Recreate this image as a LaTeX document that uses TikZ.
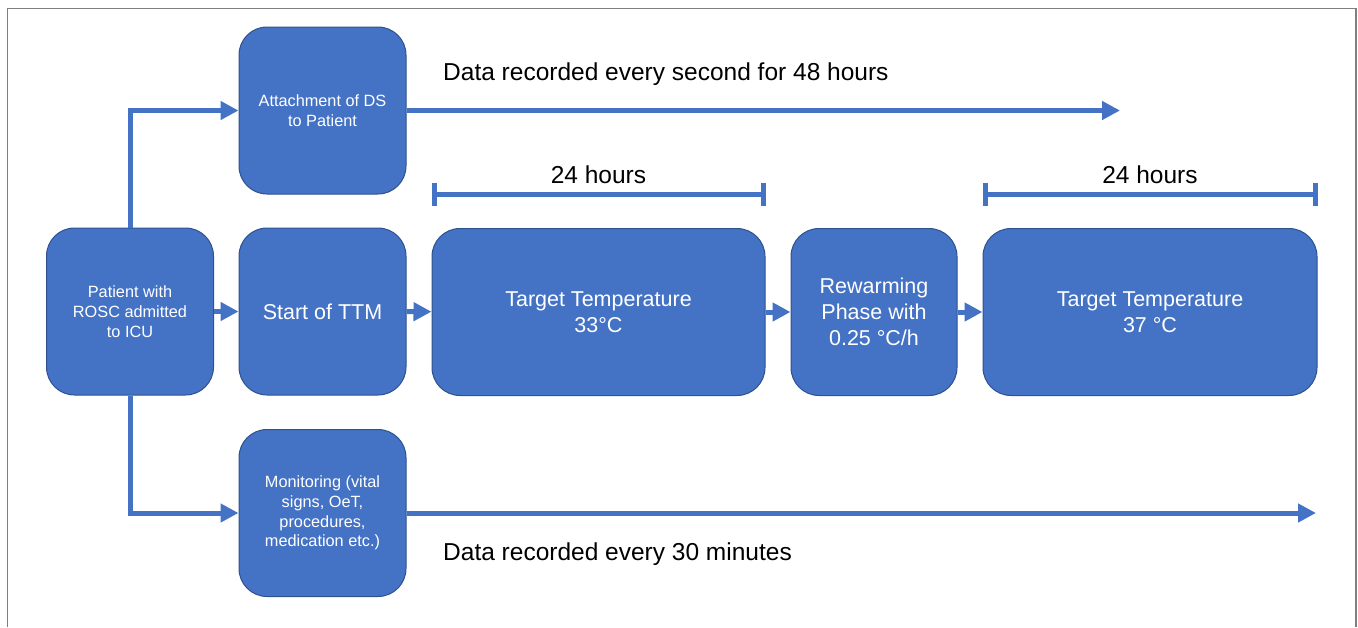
\documentclass[tikz,border=0pt]{standalone}
\usepackage{fontspec}
\setmainfont{Liberation Sans}
\usetikzlibrary{arrows.meta}

\definecolor{boxblue}{HTML}{4472C4}
\definecolor{boxedge}{HTML}{2F528F}
\definecolor{framegray}{HTML}{7F7F7F}

\tikzset{
  stage/.style={draw=boxedge, line width=1pt, fill=boxblue, text=white,
    rounded corners=28pt, align=center, inner sep=0pt,
    minimum height=167pt},
  narrowbox/.style={stage, minimum width=167pt},
  widebox/.style={stage, minimum width=333pt},
  smalltext/.style={font=\fontsize{16.3}{19.8}\selectfont},
  bigtext/.style={font=\fontsize{21.5}{26}\selectfont},
  conn/.style={draw=boxblue, line width=5pt,
    -{Triangle[length=18pt,width=18pt]}},
  span/.style={draw=boxblue, line width=5pt, line cap=butt},
  note/.style={font=\fontsize{24.5}{29}\selectfont, inner sep=0pt}
}

\begin{document}
\begin{tikzpicture}[x=1pt, y=-1pt]
  \useasboundingbox (0,0) rectangle (1358,627);
  % open frame (left, top and right sides)
  \draw[framegray, line width=1.5pt] (7.5,627) -- (7.5,8.5) -- (1356,8.5) -- (1356,627);

  % stage boxes
  \node[narrowbox, smalltext] (pat) at (130,311.5) {Patient with\\ROSC admitted\\to ICU};
  \node[narrowbox, smalltext] (att) at (322.5,110.5) {Attachment of DS\\to Patient};
  \node[narrowbox, bigtext]   (ttm) at (322.5,311.5) {Start of TTM};
  \node[narrowbox, smalltext] (mon) at (322.5,513) {Monitoring (vital\\signs, OeT,\\procedures,\\medication etc.)};
  \node[widebox, bigtext]     (t33) at (598.5,312) {Target Temperature\\33°C};
  \node[narrowbox, bigtext, minimum width=166pt] (rew) at (874,312) {Rewarming\\Phase with\\0.25 °C/h};
  \node[widebox, bigtext, minimum width=334pt] (t37) at (1150,312) {Target Temperature\\37 °C};

  % free ends of the long recording arrows
  \coordinate (topend) at (1120,110.5);
  \coordinate (botend) at (1316,513);

  % connectors
  \draw[conn] (pat.north) |- (att.west);
  \draw[conn] (pat.south) |- (mon.west);
  \draw[conn] (pat) -- (ttm);
  \draw[conn] (ttm) -- (t33);
  \draw[conn] (t33) -- (rew);
  \draw[conn] (rew) -- (t37);
  \draw[conn] (att.east) -- (topend);
  \draw[conn] (mon.east) -- (botend);

  % 24-hour spans above the target temperature phases
  \coordinate (a1) at ([xshift=2.5pt, yshift=34pt]t33.north west);
  \coordinate (a2) at ([xshift=-2.5pt, yshift=34pt]t33.north east);
  \coordinate (b1) at ([xshift=2.5pt, yshift=34pt]t37.north west);
  \coordinate (b2) at ([xshift=-2.5pt, yshift=34pt]t37.north east);
  \foreach \p/\q in {a1/a2, b1/b2} {
    \draw[span] (\p) -- (\q);
    \draw[span] ([yshift=11.5pt]\p) -- ([yshift=-11.5pt]\p);
    \draw[span] ([yshift=11.5pt]\q) -- ([yshift=-11.5pt]\q);
  }
  \node[note, anchor=base] (h1) at (598.5,183) {24 hours};
  \node[note, anchor=base] (h2) at (1150,183) {24 hours};

  % recording notes
  \node[note, anchor=base west] (n1) at (443,80) {Data recorded every second for 48 hours};
  \node[note, anchor=base west] (n2) at (443,560) {Data recorded every 30 minutes};
\end{tikzpicture}
\end{document}
